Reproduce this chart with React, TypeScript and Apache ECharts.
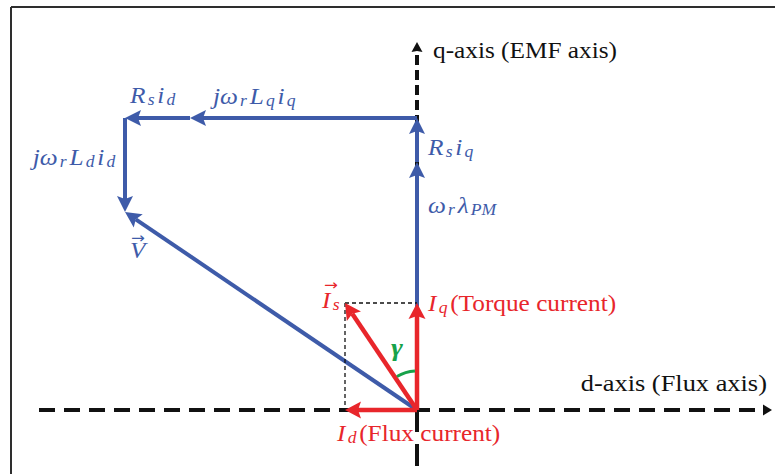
import { useEffect, useRef } from "react";
import * as echarts from "echarts";

// Stator current phasors in the d-q frame: I_q, I_d, I_s
const currentLabels = [
  "{m|I}{s|q}{t|(Torque current)}",
  "{m|I}{s|d}{t|(Flux current)}",
  "{m|I}{s|s}",
];
const currentD = [0, -0.72, -0.72];
const currentQ = [1.07, 0, 1.07];

// Terms of the stator voltage equation, laid head-to-tail from the origin
const voltageLabels = [
  "{m|ω}{s|r}{m|λ}{s|PM}",
  "{m|R}{s|s}{m|i}{s|q}",
  "{m|jω}{s|r}{m|L}{s|q}{m|i}{s|q}",
  "{m|R}{s|s}{m|i}{s|d}",
  "{m|jω}{s|r}{m|L}{s|d}{m|i}{s|d}",
];
const voltageD = [0, 0, -2.27, -0.65, 0];
const voltageQ = [2.48, 0.44, 0, 0, -0.94];

// Reference frame axes and the visible window
const axisTitles = ["d-axis (Flux axis)", "q-axis (EMF axis)"];
const dAxisRange = [-3.78, 3.55];
const qAxisRange = [-0.64, 3.68];
const viewD = [-4.17, 3.58];
const viewQ = [-0.64, 4.1];

const BLUE = "#3e5ba9";
const RED = "#e8262b";
const GREEN = "#17a24a";
const INK = "#111111";

const SERIF = "'Liberation Serif', 'Times New Roman', serif";
const STRETCH = 1.1;

// token kinds for the formula labels: math letter, subscript, upright text
const TOKEN_FONT: Record<string, string> = {
  m: `italic 23px ${SERIF}`,
  s: `italic 16px ${SERIF}`,
  t: `23px ${SERIF}`,
};
const TOKEN_GAP: Record<string, number> = { m: 2, s: 2.5, t: 0 };
const TOKEN_SHIFT: Record<string, number> = { m: 0, s: 5, t: 0 };

type ArrowStyle = {
  color: string;
  width: number;
  head: number;
  half: number;
  notch: number;
  dash?: number[];
};

function arrowSeries(name: string, segs: number[][], st: ArrowStyle, z: number) {
  return {
    type: "custom",
    name,
    coordinateSystem: "cartesian2d",
    silent: true,
    clip: false,
    z,
    encode: { x: [0, 2], y: [1, 3] },
    data: segs,
    renderItem: (_p: any, api: any) => {
      const a = api.coord([api.value(0), api.value(1)]);
      const b = api.coord([api.value(2), api.value(3)]);
      const dx = b[0] - a[0];
      const dy = b[1] - a[1];
      const len = Math.hypot(dx, dy) || 1;
      const ux = dx / len;
      const uy = dy / len;
      const nx = -uy;
      const ny = ux;
      const back = st.head > 0 ? st.head - st.notch : 0;
      const children: any[] = [
        {
          type: "line",
          shape: { x1: a[0], y1: a[1], x2: b[0] - ux * back, y2: b[1] - uy * back },
          style: { stroke: st.color, lineWidth: st.width, lineDash: st.dash, lineCap: "butt" },
        },
      ];
      if (st.head > 0) {
        const bx = b[0] - ux * st.head;
        const by = b[1] - uy * st.head;
        children.push({
          type: "polygon",
          shape: {
            points: [
              [b[0], b[1]],
              [bx + nx * st.half, by + ny * st.half],
              [b[0] - ux * back, b[1] - uy * back],
              [bx - nx * st.half, by - ny * st.half],
            ],
          },
          style: { fill: st.color },
        });
      }
      return { type: "group", children };
    },
  };
}

type LabelSpec = {
  at: number[];
  text: string;
  dx: number;
  dy: number;
  align: "left" | "right" | "center";
  color: string;
  font?: string;
};

let measureCtx: CanvasRenderingContext2D | null = null;
function textWidth(s: string, font: string) {
  if (!measureCtx) measureCtx = document.createElement("canvas").getContext("2d");
  if (!measureCtx) return s.length * 10;
  measureCtx.font = font;
  return measureCtx.measureText(s).width;
}

function tokensOf(l: LabelSpec) {
  if (l.font) return [{ text: l.text, font: l.font, gap: 0, shift: 0 }];
  const out: { text: string; font: string; gap: number; shift: number }[] = [];
  const re = /\{(\w)\|([^}]*)\}/g;
  let m: RegExpExecArray | null;
  while ((m = re.exec(l.text))) {
    out.push({ text: m[2], font: TOKEN_FONT[m[1]], gap: TOKEN_GAP[m[1]], shift: TOKEN_SHIFT[m[1]] });
  }
  return out;
}

export default function App() {
  const ref = useRef<HTMLDivElement>(null);

  useEffect(() => {
    if (!ref.current) return;
    const chart = echarts.init(ref.current, undefined, { renderer: "svg" });

    // head-to-tail chain of voltage terms
    const nodes: number[][] = [[0, 0]];
    voltageD.forEach((d, i) => {
      const p = nodes[nodes.length - 1];
      nodes.push([p[0] + d, p[1] + voltageQ[i]]);
    });
    const vTip = nodes[nodes.length - 1];
    const voltageSegs = voltageD.map((_, i) => [nodes[i][0], nodes[i][1], nodes[i + 1][0], nodes[i + 1][1]]);
    voltageSegs.push([0, 0, vTip[0], vTip[1]]);

    const currentSegs = currentD.map((d, i) => [0, 0, d, currentQ[i]]);
    const isTip = [currentD[2], currentQ[2]];
    const projSegs = [
      [isTip[0], isTip[1], currentD[0], currentQ[0]],
      [isTip[0], isTip[1], currentD[1], currentQ[1]],
    ];

    const labels: LabelSpec[] = [
      { at: nodes[1], text: voltageLabels[0], dx: 11, dy: 43, align: "left", color: BLUE },
      { at: nodes[2], text: voltageLabels[1], dx: 11, dy: 29, align: "left", color: BLUE },
      { at: nodes[3], text: voltageLabels[2], dx: 23, dy: -22, align: "left", color: BLUE },
      { at: nodes[4], text: voltageLabels[3], dx: 5, dy: -23, align: "left", color: BLUE },
      { at: nodes[5], text: voltageLabels[4], dx: -7, dy: -55, align: "right", color: BLUE },
      { at: vTip, text: "{m|V}", dx: 5, dy: 38, align: "left", color: BLUE },
      { at: vTip, text: "→", dx: 13, dy: 26, align: "center", color: BLUE, font: "15px 'DejaVu Sans'" },
      { at: [currentD[0], currentQ[0]], text: currentLabels[0], dx: 11, dy: 0, align: "left", color: RED },
      { at: [currentD[1], currentQ[1]], text: currentLabels[1], dx: -8, dy: 23, align: "left", color: RED },
      { at: isTip, text: currentLabels[2], dx: -23, dy: -3, align: "left", color: RED },
      { at: isTip, text: "→", dx: -14, dy: -18, align: "center", color: RED, font: "15px 'DejaVu Sans'" },
      { at: [0, 0], text: "γ", dx: -20, dy: -63, align: "center", color: GREEN, font: `italic bold 26px ${SERIF}` },
      { at: [0, qAxisRange[1]], text: axisTitles[1], dx: 16, dy: 8, align: "left", color: INK, font: `23px ${SERIF}` },
      { at: [dAxisRange[1], 0], text: axisTitles[0], dx: -5, dy: -27, align: "right", color: INK, font: `24px ${SERIF}` },
    ];

    const option: any = {
      animation: false,
      backgroundColor: "#ffffff",
      grid: { left: 0, right: 0, top: 0, bottom: 0 },
      xAxis: { type: "value", min: viewD[0], max: viewD[1], show: false },
      yAxis: { type: "value", min: viewQ[0], max: viewQ[1], show: false },
      graphic: [
        { type: "line", shape: { x1: 11, y1: 7, x2: 775, y2: 7 }, style: { stroke: "#2e2e2e", lineWidth: 2 } },
        { type: "line", shape: { x1: 11, y1: 7, x2: 11, y2: 474 }, style: { stroke: "#2e2e2e", lineWidth: 2 } },
      ],
      series: [
        arrowSeries("d-axis", [[dAxisRange[0], 0, dAxisRange[1], 0]], { color: INK, width: 4, head: 9, half: 5.5, notch: 0, dash: [16, 9] }, 1),
        arrowSeries("q-axis", [[0, 0, 0, qAxisRange[1]]], { color: INK, width: 4, head: 10, half: 5.5, notch: 1, dash: [10, 5] }, 1),
        arrowSeries("q-axis-lower", [[0, 0, 0, qAxisRange[0]]], { color: INK, width: 4, head: 0, half: 0, notch: 0, dash: [22, 12] }, 1),
        arrowSeries("voltage", voltageSegs, { color: BLUE, width: 4, head: 16, half: 8, notch: 3 }, 2),
        arrowSeries("projection", projSegs, { color: INK, width: 1.3, head: 0, half: 0, notch: 0, dash: [4, 3] }, 3),
        arrowSeries("current", currentSegs, { color: RED, width: 4.5, head: 16, half: 8.5, notch: 3 }, 4),
        {
          type: "custom",
          name: "gamma",
          coordinateSystem: "cartesian2d",
          silent: true,
          clip: false,
          z: 5,
          data: [[0, 0]],
          renderItem: (_p: any, api: any) => {
            const o = api.coord([0, 0]);
            const q = api.coord([currentD[0], currentQ[0]]);
            const s = api.coord(isTip);
            const aq = Math.atan2(q[1] - o[1], q[0] - o[0]);
            const as = Math.atan2(s[1] - o[1], s[0] - o[0]);
            const pad = (3 * Math.PI) / 180;
            return {
              type: "arc",
              shape: { cx: o[0], cy: o[1], r: 39, startAngle: as + pad, endAngle: aq - pad, clockwise: true },
              style: { stroke: GREEN, lineWidth: 3, fill: "none" },
            };
          },
        },
        {
          type: "custom",
          name: "labels",
          coordinateSystem: "cartesian2d",
          silent: true,
          clip: false,
          z: 6,
          encode: { x: 0, y: 1 },
          data: labels.map((l) => [l.at[0], l.at[1]]),
          renderItem: (params: any, api: any) => {
            const l = labels[params.dataIndex];
            const p = api.coord([api.value(0), api.value(1)]);
            const toks = tokensOf(l);
            const widths = toks.map((t) => textWidth(t.text, t.font) + t.gap);
            const total = widths.reduce((a, b) => a + b, 0);
            let cursor = l.align === "left" ? 0 : l.align === "right" ? -total : -total / 2;
            const children = toks.map((t, i) => {
              const el = {
                type: "text",
                x: cursor,
                y: t.shift,
                style: { text: t.text, font: t.font, fill: l.color, align: "left", verticalAlign: "middle" },
              };
              cursor += widths[i];
              return el;
            });
            return {
              type: "group",
              x: p[0] + l.dx,
              y: p[1] + l.dy,
              scaleX: STRETCH,
              children,
            };
          },
        },
      ],
    };

    chart.setOption(option);
    return () => chart.dispose();
  }, []);

  return (
    <div
      ref={ref}
      style={{ position: "fixed", left: 0, top: 0, width: 775, height: 474, background: "#ffffff" }}
    />
  );
}
